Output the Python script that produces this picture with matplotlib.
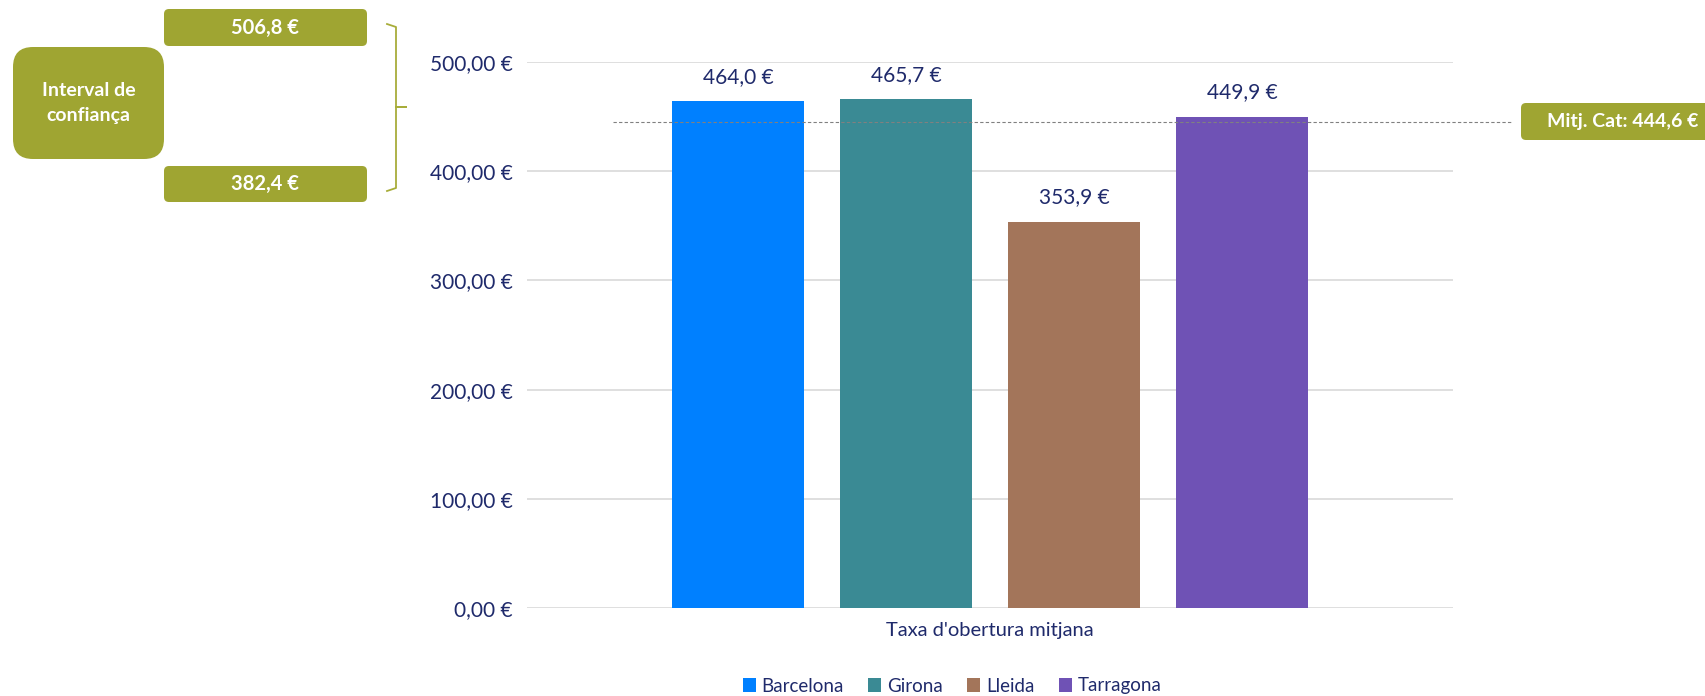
import matplotlib

matplotlib.use("Agg")
import matplotlib.pyplot as plt  # noqa: E402
from matplotlib.patches import FancyBboxPatch, Patch  # noqa: E402
from matplotlib.transforms import Affine2D, blended_transform_factory  # noqa: E402

# data
provinces = ["Barcelona", "Girona", "Lleida", "Tarragona"]
values = [464.0, 465.7, 353.9, 449.9]
colors = ["#0080FF", "#3A8A94", "#A3755A", "#6F52B5"]
category = "Taxa d'obertura mitjana"
cat_mean = 444.6
ci_high = 506.8
ci_low = 382.4
yticks = [0, 100, 200, 300, 400, 500]

NAVY = "#1F2A6B"
OLIVE = "#9FA532"
W, H, DPI = 1706, 696, 100


def eur(v, dec=1):
    return f"{v:,.{dec}f} €".replace(",", "X").replace(".", ",").replace("X", ".")


plt.rcParams["font.family"] = ["Lato", "DejaVu Sans"]

fig = plt.figure(figsize=(W / DPI, H / DPI), dpi=DPI)
ax = fig.add_axes([527 / W, 1 - 608 / H, 926 / W, 546 / H])

step = 1.0
width = 0.79
offsets = [(i - 1.5) * step for i in range(len(provinces))]
for off, v, c, name in zip(offsets, values, colors, provinces):
    ax.bar(off, v, width=width, color=c, label=name, zorder=3)
    ax.text(off, v + 13, eur(v), ha="center", va="bottom", color=NAVY,
            fontsize=15, clip_on=False)

ax.set_xlim(-2.757, 2.757)
ax.set_ylim(0, 500)
ax.set_yticks(yticks)
ax.set_yticklabels([eur(t, 2) for t in yticks], color=NAVY, fontsize=15)
ax.set_xticks([])
ax.grid(axis="y", color="#D9D9D9", linewidth=1.2, zorder=0)
ax.tick_params(axis="y", length=0, pad=10)
for s in ax.spines.values():
    s.set_visible(False)
ax.set_xlabel(category, color=NAVY, fontsize=14.5, labelpad=10)

# Catalonia mean line, running out to the label box
px = Affine2D().scale(1 / DPI, -1 / DPI).translate(0, H / DPI) + fig.dpi_scale_trans
blend = blended_transform_factory(fig.transFigure, ax.transData)
ax.plot([613 / W, 1512 / W], [cat_mean, cat_mean], transform=blend, color="#808080",
        linestyle=(0, (3, 2)), linewidth=0.8, clip_on=False, zorder=4)


def box(x0, y0, x1, y1, r, text, size=14.5, cx=None):
    p = FancyBboxPatch((x0 + r, y0 + r), x1 - x0 - 2 * r, y1 - y0 - 2 * r,
                       boxstyle=f"round,pad={r},rounding_size={r}",
                       transform=px, facecolor=OLIVE, edgecolor="none")
    fig.add_artist(p)
    cx = (x0 + x1) / 2 if cx is None else cx
    fig.text(cx / W, 1 - (y0 + y1) / 2 / H, text, ha="center", va="center",
             color="white", fontweight="bold", fontsize=size, linespacing=1.5)


box(1521, 103, 1740, 140, 5, f"Mitj. Cat: {eur(cat_mean)}", size=14, cx=1623)
box(164, 9, 367, 46, 5, eur(ci_high))
box(164, 166, 367, 202, 5, eur(ci_low))
box(13, 47, 164, 159, 20, "Interval de\nconfiança", size=14)

# bracket
bx, top, bot, mid = 396, 24, 191, 107
fig.add_artist(plt.Line2D([387, bx, bx, 406, bx, bx, 387],
                          [top, top + 3, mid, mid, mid, bot - 3, bot],
                          transform=px, color="#A8AD3A", linewidth=1.3))

handles = [Patch(facecolor=c, label=n) for c, n in zip(colors, provinces)]
fig.legend(handles=handles, loc="center", bbox_to_anchor=(952 / W, 1 - 686 / H), ncol=4,
           frameon=False, handlelength=0.7, handleheight=0.7, handletextpad=0.3,
           columnspacing=1.3, fontsize=13.5, labelcolor=NAVY)

fig.savefig("out.png", dpi=DPI)
